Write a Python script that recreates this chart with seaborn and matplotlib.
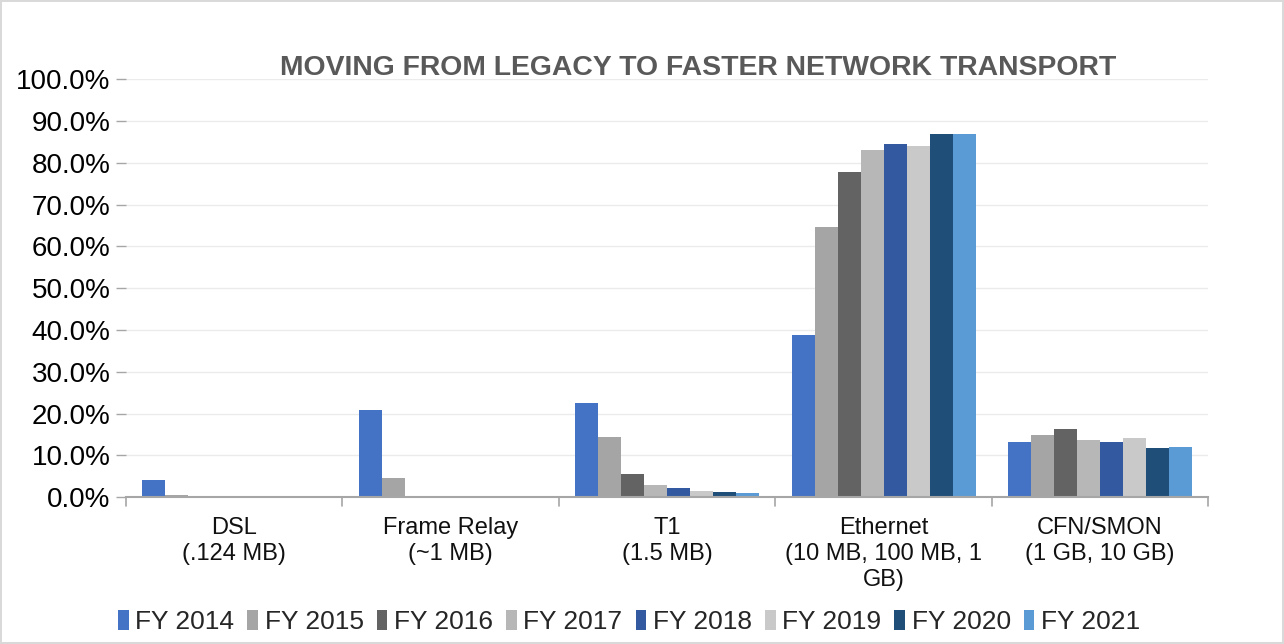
import numpy as np
import pandas as pd
import seaborn as sns
import matplotlib.pyplot as plt
from matplotlib.ticker import FuncFormatter

categories = ["DSL\n(.124 MB)", "Frame Relay\n(~1 MB)", "T1\n(1.5 MB)",
              "Ethernet\n(10 MB, 100 MB, 1\nGB)", "CFN/SMON\n(1 GB, 10 GB)"]
years = ["FY 2014", "FY 2015", "FY 2016", "FY 2017",
         "FY 2018", "FY 2019", "FY 2020", "FY 2021"]

# percent share per year, one list per category
dsl = [4.1, 0.6, 0.0, 0.0, 0.0, 0.0, 0.0, 0.0]
frame_relay = [20.8, 4.6, 0.2, 0.0, 0.0, 0.0, 0.0, 0.0]
t1 = [22.5, 14.4, 5.6, 3.0, 2.2, 1.4, 1.2, 1.0]
ethernet = [38.8, 64.6, 77.8, 83.0, 84.4, 84.0, 86.8, 86.8]
cfn_smon = [13.2, 14.8, 16.3, 13.6, 13.2, 14.1, 11.7, 12.0]

colors = ["#4472C4", "#A5A5A5", "#636363", "#B7B7B7",
          "#335AA1", "#C9C9C9", "#1F4E79", "#5B9BD5"]

rows = []
for cat, vals in zip(categories, [dsl, frame_relay, t1, ethernet, cfn_smon]):
    for yr, v in zip(years, vals):
        rows.append({"category": cat, "year": yr, "value": v})
df = pd.DataFrame(rows)

sns.set_style("white")
plt.rcParams["font.family"] = ["Liberation Sans", "DejaVu Sans"]

fig = plt.figure(figsize=(12.84, 6.44), dpi=100)
fig.patch.set_edgecolor("#D9D9D9")
fig.patch.set_linewidth(1.5)
ax = fig.add_axes([0.098, 0.228, 0.843, 0.649])

sns.barplot(data=df, x="category", y="value", hue="year", palette=colors,
            width=0.85, gap=0, saturation=1, linewidth=0, ax=ax, legend=True)

ax.set_ylim(0, 100)
ax.set_xlim(-0.5, len(categories) - 0.5)
ax.set_yticks(np.arange(0, 101, 10))
ax.yaxis.set_major_formatter(FuncFormatter(lambda v, p: f"{v:.1f}%"))
ax.yaxis.grid(True, color="#EBEBEB", linewidth=1)
ax.set_axisbelow(True)
ax.set_xlabel("")
ax.set_ylabel("")

for s in ["top", "right", "left"]:
    ax.spines[s].set_visible(False)
ax.spines["bottom"].set_color("#A6A6A6")
ax.spines["bottom"].set_linewidth(1.5)

ax.tick_params(axis="y", labelsize=20, colors="#A6A6A6", labelcolor="black",
               length=7, width=1, left=True, pad=4)
ax.set_xticks(range(len(categories)))
ax.set_xticklabels(categories, linespacing=1.25)
ax.tick_params(axis="x", labelsize=17, labelcolor="#111111", length=0, pad=14)
# boundary ticks between categories
for b in np.arange(-0.5, len(categories), 1.0):
    ax.plot([b, b], [0, -2], color="#A6A6A6", lw=1.2, clip_on=False,
            transform=ax.transData)

fig.text(0.544, 0.895, "MOVING FROM LEGACY TO FASTER NETWORK TRANSPORT",
         ha="center", va="center", fontsize=20.4, fontweight="bold", color="#595959")

handles, labels = ax.get_legend_handles_labels()
ax.legend(handles, labels, loc="center", bbox_to_anchor=(0.490, 0.034),
          bbox_transform=fig.transFigure, ncol=8, frameon=False,
          fontsize=19, handlelength=0.4, handleheight=0.75,
          handletextpad=0.25, columnspacing=0.5)

fig.savefig("out.png", dpi=100)
